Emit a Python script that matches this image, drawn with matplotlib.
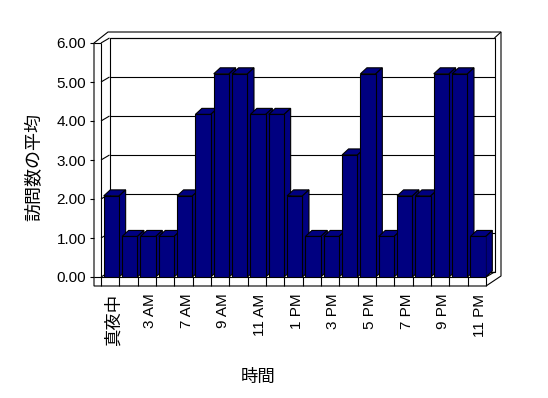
import numpy as np
import matplotlib.pyplot as plt
from matplotlib.patches import Polygon, Rectangle

plt.rcParams['font.family'] = ['Liberation Sans', 'Noto Sans CJK JP']

hours = ['真夜中', '1 AM', '3 AM', '5 AM', '7 AM', '8 AM', '9 AM', '10 AM', '11 AM', '12 PM',
         '1 PM', '2 PM', '3 PM', '4 PM', '5 PM', '6 PM', '7 PM', '8 PM', '9 PM', '10 PM', '11 PM']
visits = [2.08, 1.04, 1.04, 1.04, 2.08, 4.17, 5.21, 5.21, 4.17, 4.17,
          2.08, 1.04, 1.04, 3.13, 5.21, 1.04, 2.08, 2.08, 5.21, 5.21, 1.04]
yticks = [0, 1, 2, 3, 4, 5, 6]

W, H = 548, 398
fig = plt.figure(figsize=(W / 100, H / 100), dpi=100)
ax = fig.add_axes([101 / W, 1 - 277 / H, 385 / W, 234 / H])
n = len(hours)
x0, x1 = -0.5, n - 0.5
ymax = yticks[-1]
ax.set_xlim(x0, x1)
ax.set_ylim(0, ymax)
for s in ax.spines.values():
    s.set_visible(False)
ax.patch.set_visible(False)

# pixel -> data unit helpers
ux = 385 / n
uy = 234 / ymax
def px(p):
    return p / ux
def py(p):
    return p / uy

navy = '#000080'
lw = 0.8
kw = dict(color='black', lw=lw, clip_on=False, zorder=1, solid_capstyle='butt')

# walls and floor (3D frame)
bdx, bdy = px(8.5), py(5)
outline = [(x0 - px(7), -py(9)), (x0 - px(7), ymax), (x0 + px(7), ymax + py(11)),
           (x1 + px(15), ymax + py(11)), (x1 + px(15), py(1)), (x1, -py(9))]
ax.add_patch(Polygon(outline, closed=True, facecolor='white', edgecolor='black',
                     lw=lw, clip_on=False, zorder=0.5))
ax.add_patch(Rectangle((x0 + bdx, bdy), x1 - x0, ymax, facecolor='white',
                       edgecolor='black', lw=lw, clip_on=False, zorder=0.8))
for k in yticks:
    ax.plot([x0 + bdx, x1 + bdx], [k + bdy, k + bdy], **kw)
    ax.plot([x0, x0 + bdx], [k, k + bdy], **kw)
    ax.plot([x0 - px(11), x0 - px(7)], [k, k], **kw)
ax.plot([x0, x0], [0, ymax], **kw)
ax.plot([x0 - px(7), x0], [ymax, ymax], **kw)
ax.plot([x0 - px(7), x1], [0, 0], **kw)
ax.plot([x1, x1 + bdx], [0, bdy], **kw)
ax.plot([x1 + bdx, x1 + px(15)], [ymax + bdy, ymax + py(11)], **kw)
for b in np.arange(x0, x1 + 0.5, 1):
    ax.plot([b, b], [0, -py(9)], **kw)

# bars with top and side faces
xs = np.arange(n) + 0.07
bw = 0.84
ddx, ddy = px(6.5), py(6)
bars = ax.bar(xs, visits, width=bw, color=navy, edgecolor='black', lw=lw)
for i, (rect, v) in enumerate(zip(bars, visits)):
    l = xs[i] - bw / 2
    r = xs[i] + bw / 2
    z = 3 + i * 0.01
    rect.set_zorder(z + 0.005)
    top = [(l, v), (l + ddx, v + ddy), (r + ddx, v + ddy), (r, v)]
    side = [(r, 0), (r, v), (r + ddx, v + ddy), (r + ddx, ddy)]
    for pts in (top, side):
        ax.add_patch(Polygon(pts, closed=True, facecolor=navy, edgecolor='black',
                             lw=lw, zorder=z, clip_on=False))

ax.set_yticks(yticks, labels=[f'{v:.2f}' for v in yticks], fontsize=11)
ax.tick_params(axis='y', length=0, pad=10.8)
ax.set_xticks(xs[::2] + 0.1, labels=hours[::2], rotation=90, fontsize=11)
ax.tick_params(axis='x', length=0, pad=12)
ax.get_xticklabels()[0].set_fontsize(12.5)

fig.text(35 / W, 1 - 167 / H, '訪問数の平均', rotation=90, fontsize=13,
         ha='center', va='center')
fig.text(258 / W, 1 - 377 / H, '時間', fontsize=12.5, ha='center', va='center')

fig.savefig('out.png', dpi=100)
